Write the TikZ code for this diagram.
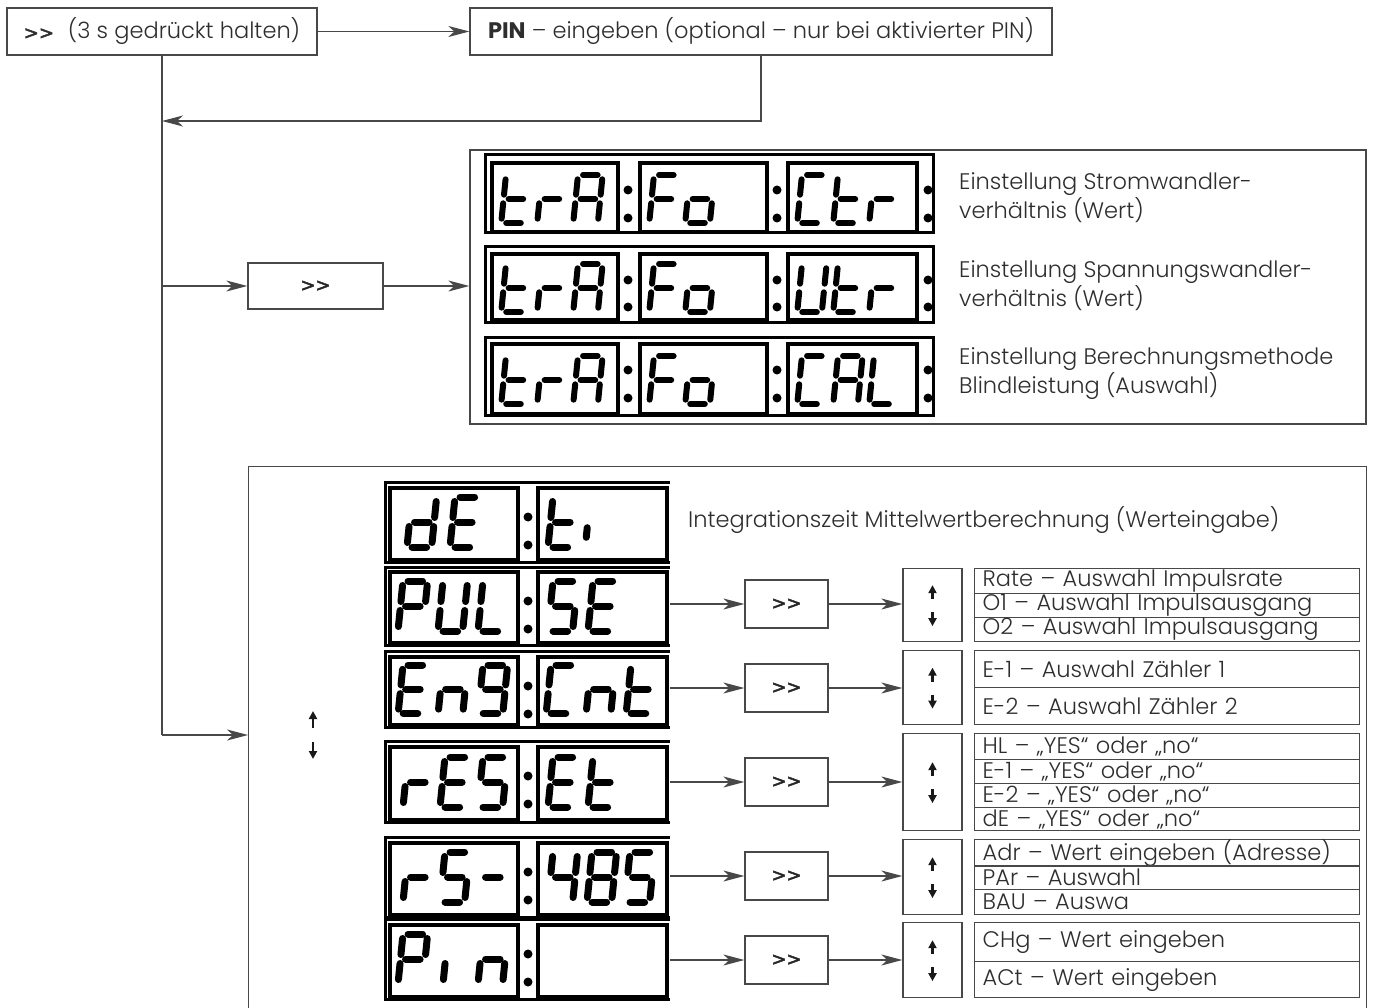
\documentclass[tikz,border=0pt]{standalone}
\usepackage{fontspec}
\IfFontExistsTF{Poppins Light}{\setmainfont{Poppins Light}[Ligatures=TeXOff]}{\setmainfont{Poppins}[Ligatures=TeXOff]}
\newfontfamily\popreg{Poppins}[Ligatures=TeXOff]
\newfontfamily\gtfont{DejaVu Sans}[Ligatures=TeXOff, FakeBold=2.5]
\usetikzlibrary{arrows.meta,calc}
\definecolor{ln}{HTML}{484848}
\definecolor{tx}{HTML}{2E2E2E}
\def\seglw{6pt}
\newcommand\gtgt{{\gtfont\fontsize{18}{18}\selectfont >>}}
\tikzset{
  txt/.style={text=tx, font=\fontsize{22.5}{29}\selectfont},
  btxt/.style={text=black!85},
  box/.style={draw=ln, line width=1.3pt, fill=white, inner sep=0pt, txt},
  conn/.style={draw=ln, line width=1.3pt},
  arr/.style={conn, -{Stealth[length=21pt,width=11pt,inset=6pt]}},
  lbl/.style={txt, anchor=west, inner sep=0pt, align=left},
  lrow/.style={draw=ln, line width=1.3pt, inner xsep=8pt, inner ysep=0pt, text width=369pt, align=left, anchor=north west, txt},
  lcdf/.style={draw=black, line width=3pt},
  seg/.style={draw=black, line width=\seglw, line cap=round},
  uparr/.style={draw=black!90, line width=2.2pt, -{Triangle[length=8pt,width=8pt]}},
}
\newcommand\SGa{\draw[seg] (4.5,0)--(17.5,0);}
\newcommand\SGb{\draw[seg] (22,4.5)--(22,20.5);}
\newcommand\SGc{\draw[seg] (22,29.5)--(22,45.5);}
\newcommand\SGd{\draw[seg] (4.5,50)--(17.5,50);}
\newcommand\SGe{\draw[seg] (0,29.5)--(0,45.5);}
\newcommand\SGf{\draw[seg] (0,4.5)--(0,20.5);}
\newcommand\SGg{\draw[seg] (4.5,25)--(17.5,25);}
% x, y, xscale, yscale, segments
\newcommand\lcdch[5]{\begin{scope}[shift={(#1,#2)}, xslant=0.1, xscale=#3, yscale=#4]\foreach \s in {#5}{\csname SG\s\endcsname}\end{scope}}
\newcommand\lcdbig[4]{\begin{scope}[shift={(#1,#2)}, xslant=0.1, xscale=1.12, yscale=#3]\def\seglw{7pt}\foreach \s in {#4}{\csname SG\s\endcsname}\end{scope}}
\newcommand\lcdpanel[4]{\draw[lcdf, line width=3.5pt] (#1,#2) rectangle ++(#3,#4);}
\newcommand\lcddots[3]{\fill (#1,#2) circle (4.5pt); \fill (#1,#3) circle (4.5pt);}
\begin{document}
\begin{tikzpicture}[x=1pt,y=-1pt]
\useasboundingbox (0,0) rectangle (1373,1008);

% ---------- top row ----------
\node[box, minimum width=310pt, minimum height=47pt] (start) at (162,31.5) {\gtgt\hspace{14pt}(3 s gedrückt halten)};
\node[box, minimum width=582pt, minimum height=47pt] (pin) at (761,31.5) {{\popreg\bfseries PIN} – eingeben (optional – nur bei aktivierter PIN)};
\draw[arr] (start) -- (pin);
\coordinate (ret) at (162,121);
\coordinate (br1) at (162,286);
\coordinate (br2) at (162,735);
\draw[arr] (pin.south) |- (ret);
\draw[conn] (start.south) -- (br2);

% ---------- first branch ----------
\node[box, minimum width=135pt, minimum height=46pt, btxt] (m1) at (315.5,286) {\gtgt};
\node[box, minimum width=896pt, minimum height=274pt] (B1) at (918,287) {};
\draw[arr] (br1) -- (m1);
\draw[arr] (m1) -- (m1 -| B1.west);

% LCD rows in B1
\foreach \ft/\fb/\pt/\ph/\da/\db in {155/233/163/69/190/218, 247/322/254/66/280/307, 337/415/344/70/370/398}{
  \draw[lcdf] (485,\ft) rectangle (933,\fb);
  \lcdpanel{492}{\pt}{126}{\ph}
  \lcdpanel{640}{\pt}{127}{\ph}
  \lcdpanel{788}{\pt}{129}{\ph}
  \lcddots{628}{\da}{\db}
  \lcddots{777}{\da}{\db}
  \lcddots{928}{\da}{\db}
}
% row 1: trA Fo Ctr
\lcdch{506}{175}{1.12}{0.96}{d,e,f,g}
\lcdch{542}{175}{1.12}{0.96}{e,g}
\lcdch{578}{175}{1.12}{0.96}{a,b,c,e,f,g}
\lcdch{654}{175}{1.12}{0.96}{a,e,f,g}
\lcdch{690}{175}{1.12}{0.96}{c,d,e,g}
\lcdch{802}{175}{1.12}{0.96}{a,d,e,f}
\lcdch{838}{175}{1.12}{0.96}{d,e,f,g}
\lcdch{874}{175}{1.12}{0.96}{e,g}
% row 2: trA Fo Utr
\lcdch{506}{264}{1.12}{0.96}{d,e,f,g}
\lcdch{542}{264}{1.12}{0.96}{e,g}
\lcdch{578}{264}{1.12}{0.96}{a,b,c,e,f,g}
\lcdch{654}{264}{1.12}{0.96}{a,e,f,g}
\lcdch{690}{264}{1.12}{0.96}{c,d,e,g}
\lcdch{802}{264}{1.12}{0.96}{b,c,d,e,f}
\lcdch{838}{264}{1.12}{0.96}{d,e,f,g}
\lcdch{874}{264}{1.12}{0.96}{e,g}
% row 3: trA Fo CAL
\lcdch{506}{356}{1.12}{0.96}{d,e,f,g}
\lcdch{542}{356}{1.12}{0.96}{e,g}
\lcdch{578}{356}{1.12}{0.96}{a,b,c,e,f,g}
\lcdch{654}{356}{1.12}{0.96}{a,e,f,g}
\lcdch{690}{356}{1.12}{0.96}{c,d,e,g}
\lcdch{802}{356}{1.12}{0.96}{a,d,e,f}
\lcdch{838}{356}{1.12}{0.96}{a,b,c,e,f,g}
\lcdch{874}{356}{1.12}{0.96}{d,e,f}

\node[lbl] (t1) at (959,198) {Einstellung Stromwandler-\\verhältnis (Wert)};
\node[lbl] (t2) at (959,285.5) {Einstellung Spannungswandler-\\verhältnis (Wert)};
\node[lbl] (t3) at (959,373.5) {Einstellung Berechnungsmethode\\Blindleistung (Auswahl)};

% ---------- second branch ----------
\node[box, minimum width=1118pt, minimum height=560pt, anchor=north west] (B2) at (248,466) {};
\draw[arr] (br2) -- (br2 -| B2.west);
\coordinate (u0) at (313,728);
\coordinate (d0) at (313,742);
\draw[uparr] (u0) -- ++(0,-17);
\draw[uparr] (d0) -- ++(0,17);

% LCD rows in B2
\foreach \ft/\pt/\ph in {482/488/72, 567/572/71, 651/657/68, 741/747/73, 837/843/72, 919/925/72}{
  \draw[lcdf] (670,\ft) -- (385,\ft) -- (385,\pt+\ph+2) -- (670,\pt+\ph+2);
  \lcdpanel{390}{\pt}{128}{\ph}
  \lcdpanel{538}{\pt}{129}{\ph}
  \lcddots{528}{\pt+29}{\pt+57}
}
% dE ti
\lcdbig{412}{497}{1.0}{b,c,d,e,g}
\lcdbig{455}{497}{1.0}{a,d,e,f,g}
\lcdbig{553}{497}{1.0}{d,e,f,g}
\lcdbig{589}{510}{0.6}{e}
% PUL SE
\lcdbig{403}{581}{1.0}{a,b,e,f,g}
\lcdbig{443}{581}{1.0}{b,c,d,e,f}
\lcdbig{483}{581}{1.0}{d,e,f}
\lcdbig{553}{581}{1.0}{a,c,d,f,g}
\lcdbig{593}{581}{1.0}{a,d,e,f,g}
% En9 Cnt
\lcdbig{403}{665}{0.97}{a,d,e,f,g}
\lcdbig{443}{665}{0.97}{c,e,g}
\lcdbig{483}{665}{0.97}{a,b,c,d,f,g}
\lcdbig{551}{665}{0.97}{a,d,e,f}
\lcdbig{591}{665}{0.97}{c,e,g}
\lcdbig{631}{665}{0.97}{d,e,f,g}
% rES Et
\lcdbig{408}{757}{1.0}{e,g}
\lcdbig{445}{757}{1.0}{a,d,e,f,g}
\lcdbig{483}{757}{1.0}{a,c,d,f,g}
\lcdbig{553}{757}{1.0}{a,d,e,f,g}
\lcdbig{593}{757}{1.0}{d,e,f,g}
% rS- 485
\lcdbig{408}{852}{1.0}{e,g}
\lcdbig{445}{852}{1.0}{a,c,d,f,g}
\lcdbig{483}{852}{1.0}{g}
\lcdbig{553}{852}{1.0}{b,c,f,g}
\lcdbig{592}{852}{1.0}{a,b,c,d,e,f,g}
\lcdbig{630}{852}{1.0}{a,c,d,f,g}
% Pin
\lcdbig{403}{934}{1.0}{a,b,e,f,g}
\lcdbig{448}{934}{1.0}{e}
\lcdbig{483}{934}{1.0}{c,e,g}

\node[lbl] (t4) at (688,520) {Integrationszeit Mittelwertberechnung (Werteingabe)};

% sub-menus
\foreach \i/\y/\ut/\ub in {1/604/568/641, 2/688/650/724, 3/782/733/830, 4/876/839/914, 5/960/922/997}{
  \coordinate (o\i) at (670,\y);
  \node[box, minimum width=83pt, minimum height=48pt, btxt] (s\i) at (786.5,\y) {\gtgt};
  \node[box, minimum width=59pt, minimum height=\ub-\ut, anchor=north] (ud\i) at (932.5,\ut) {};
  \draw[uparr] ($(ud\i.center)+(0,-6)$) -- ++(0,-14);
  \draw[uparr] ($(ud\i.center)+(0,7)$) -- ++(0,14);
  \draw[arr] (o\i) -- (s\i);
  \draw[arr] (s\i.east) -- (s\i.east -| ud\i.west);
}

\node[lrow, minimum height=25pt] (r11) at (974,568) {Rate – Auswahl Impulsrate};
\node[lrow, minimum height=24pt] (r12) at (974,593) {O1 – Auswahl Impulsausgang};
\node[lrow, minimum height=24pt] (r13) at (974,617) {O2 – Auswahl Impulsausgang};

\node[lrow, minimum height=37pt] (r21) at (974,650) {E-1 – Auswahl Zähler 1};
\node[lrow, minimum height=37pt] (r22) at (974,687) {E-2 – Auswahl Zähler 2};

\node[lrow, minimum height=26pt] (r31) at (974,733) {HL – „YES“ oder „no“};
\node[lrow, minimum height=24pt] (r32) at (974,759) {E-1 – „YES“ oder „no“};
\node[lrow, minimum height=24pt] (r33) at (974,783) {E-2 – „YES“ oder „no“};
\node[lrow, minimum height=23pt] (r34) at (974,807) {dE – „YES“ oder „no“};

\node[lrow, minimum height=26pt] (r41) at (974,839) {Adr – Wert eingeben (Adresse)};
\node[lrow, minimum height=24pt] (r42) at (974,865) {PAr – Auswahl};
\node[lrow, minimum height=25pt] (r43) at (974,889) {BAU – Auswa};

\node[lrow, minimum height=39pt] (r51) at (974,922) {CHg – Wert eingeben};
\node[lrow, minimum height=36pt] (r52) at (974,961) {ACt – Wert eingeben};
\end{tikzpicture}
\end{document}
